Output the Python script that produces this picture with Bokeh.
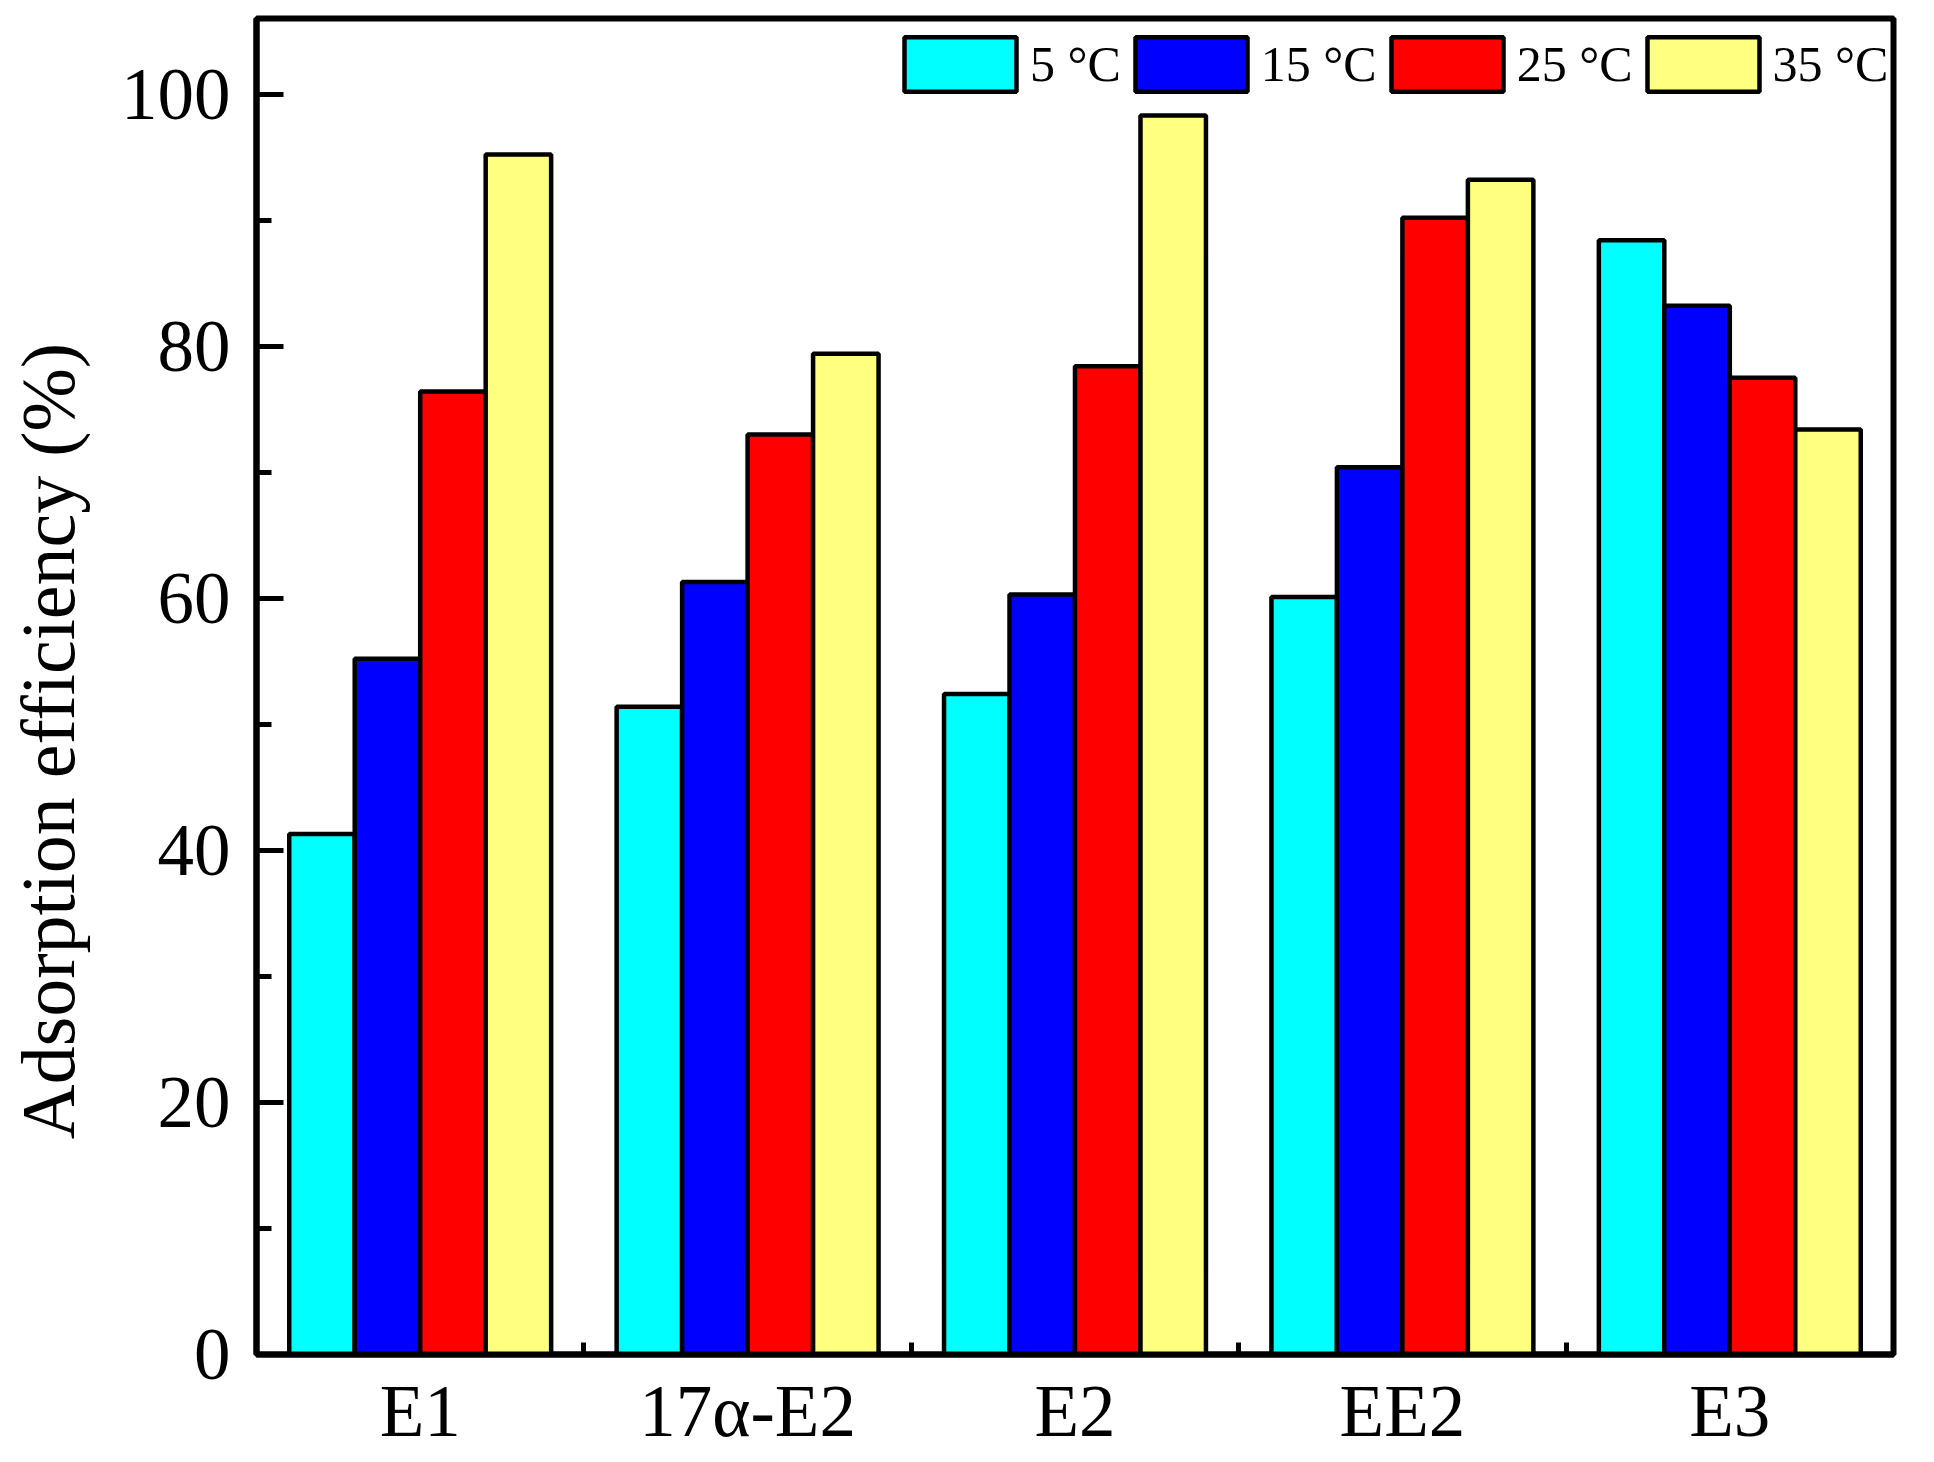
import numpy as np
from bokeh.plotting import figure
from bokeh.layouts import row
from bokeh.models import FixedTicker, Range1d, Legend, LegendItem
from bokeh.core.properties import value
from bokeh.embed import file_html
from bokeh.resources import INLINE

categories = ["E1", "17α-E2", "E2", "EE2", "E3"]
series_names = ["5 °C", "15 °C", "25 °C", "35 °C"]
v5 = [41.3, 51.4, 52.4, 60.1, 88.4]
v15 = [55.2, 61.3, 60.3, 70.4, 83.2]
v25 = [76.4, 73.0, 78.4, 90.2, 77.5]
v35 = [95.2, 79.4, 98.3, 93.2, 73.4]
colors = ["#00FFFF", "#0000FF", "#FF0000", "#FFFF80"]
y_ticks = [0, 20, 40, 60, 80, 100]
y_minor = [10, 30, 50, 70, 90]
y_title = "Adsorption efficiency (%)"

FONT = "Liberation Serif"
LAB_W = 110
TOTAL_H = 1462
FRAME_W = 1637
FRAME_H = 1336
LEG_GLYPH_H = 68

# ---- narrow figure holding the rotated y-axis title ----
pl = figure(output_backend="svg", toolbar_location=None,
            frame_width=LAB_W, frame_height=TOTAL_H,
            min_border_left=0, min_border_right=0, min_border_top=0, min_border_bottom=0,
            x_range=Range1d(0, LAB_W), y_range=Range1d(0, TOTAL_H),
            x_axis_type=None, y_axis_type=None)
pl.outline_line_color = None
pl.xgrid.visible = False
pl.ygrid.visible = False
pl.text(x=[47], y=[TOTAL_H - 722.5], text=[y_title], angle=np.pi / 2,
        text_align="center", text_baseline="alphabetic",
        text_font=value(FONT), text_font_size="76px", text_color="black")

# ---- main figure ----
p = figure(output_backend="svg", toolbar_location=None,
           frame_width=FRAME_W, frame_height=FRAME_H,
           min_border_left=256 - LAB_W, min_border_right=41,
           min_border_top=18, min_border_bottom=108,
           x_range=Range1d(-0.5, 4.5), y_range=Range1d(0, 106))
p.background_fill_color = "white"
p.border_fill_color = "white"
p.outline_line_color = "black"
p.outline_line_width = 6
p.xgrid.visible = False
p.ygrid.visible = False

idx = np.arange(len(categories))
offsets = [-0.3, -0.1, 0.1, 0.3]
renderers = []
for vals, col, off in zip([v5, v15, v25, v35], colors, offsets):
    r = p.vbar(x=idx + off, top=vals, bottom=0, width=0.2,
               fill_color=col, line_color="black", line_width=4.5)
    renderers.append(r)

# x axis
xa = p.xaxis[0]
xa.ticker = FixedTicker(ticks=list(range(len(categories))),
                        minor_ticks=[i + 0.5 for i in range(len(categories) - 1)])
xa.major_label_overrides = {i: c for i, c in enumerate(categories)}
xa.major_tick_in = 0
xa.major_tick_out = 0
xa.minor_tick_in = 12
xa.minor_tick_out = 0
xa.minor_tick_line_width = 5
xa.axis_line_width = 6
xa.major_label_text_font = FONT
xa.major_label_text_font_size = "73px"
xa.major_label_text_color = "black"
xa.major_label_standoff = 16

# y axis
ya = p.yaxis[0]
ya.ticker = FixedTicker(ticks=y_ticks, minor_ticks=y_minor)
ya.major_tick_in = 27
ya.major_tick_out = 0
ya.minor_tick_in = 15
ya.minor_tick_out = 0
ya.major_tick_line_width = 5
ya.minor_tick_line_width = 5
ya.axis_line_width = 6
ya.major_label_text_font = FONT
ya.major_label_text_font_size = "73px"
ya.major_label_text_color = "black"
ya.major_label_standoff = 26

legend = Legend(items=[LegendItem(label=n, renderers=[r]) for n, r in zip(series_names, renderers)],
                orientation="horizontal",
                location=(FRAME_W - 5 - 998, FRAME_H - 12 - LEG_GLYPH_H),
                border_line_color=None, background_fill_alpha=0,
                glyph_width=140, glyph_height=LEG_GLYPH_H, label_standoff=0,
                spacing=0, padding=0, margin=0,
                label_text_font=FONT, label_text_font_size="50px",
                label_text_color="black")
p.add_layout(legend)

layout = row(pl, p, spacing=0)
open("out.html", "w").write(file_html(layout, INLINE))
